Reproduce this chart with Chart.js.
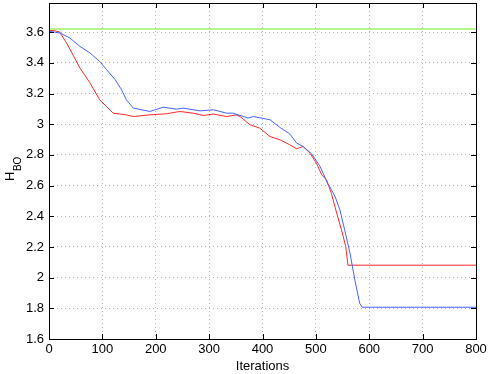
<!DOCTYPE html>
<html>
<head>
<meta charset="utf-8">
<script src="https://cdn.jsdelivr.net/npm/chart.js@4.4.1/dist/chart.umd.min.js"></script>
<style>
  html, body { margin: 0; padding: 0; background: #fff; }
  #wrap { width: 491px; height: 374px; position: relative; }
</style>
</head>
<body>
<div id="wrap"><canvas id="chart1"></canvas></div>
<script>
// values
var xTicks = [0, 100, 200, 300, 400, 500, 600, 700, 800];
var yTicks = [1.6, 1.8, 2, 2.2, 2.4, 2.6, 2.8, 3, 3.2, 3.4, 3.6];

var redIter = [0, 10, 20, 33, 58, 77, 95, 108, 120, 145, 158, 189, 220, 245, 270, 289, 308, 333, 351, 358, 377, 395, 414, 433, 451, 464, 476, 489, 501, 511, 520, 529, 539, 548, 556, 560, 800];
var redH = [3.61, 3.61, 3.6, 3.529, 3.366, 3.268, 3.159, 3.115, 3.072, 3.061, 3.05, 3.061, 3.068, 3.083, 3.072, 3.057, 3.066, 3.05, 3.061, 3.05, 2.996, 2.974, 2.92, 2.898, 2.866, 2.84, 2.855, 2.811, 2.746, 2.67, 2.637, 2.55, 2.42, 2.311, 2.202, 2.081, 2.081];

var blueIter = [0, 2, 21, 39, 58, 77, 95, 108, 124, 136, 145, 158, 189, 214, 239, 251, 283, 308, 333, 345, 373, 383, 414, 433, 451, 464, 476, 492, 508, 523, 526, 536, 545, 554, 564, 573, 582, 587, 800];
var blueH = [3.61, 3.605, 3.594, 3.562, 3.507, 3.464, 3.409, 3.355, 3.29, 3.224, 3.159, 3.105, 3.083, 3.111, 3.098, 3.105, 3.087, 3.094, 3.072, 3.072, 3.04, 3.05, 3.029, 2.978, 2.937, 2.877, 2.855, 2.807, 2.724, 2.605, 2.593, 2.528, 2.442, 2.311, 2.159, 1.985, 1.833, 1.807, 1.807];

var refIter = [0, 800];
var refH = [3.62, 3.62];

function pts(xs, ys) {
    return xs.map(function(x, i) { return { x: x, y: ys[i] }; });
}

// box, inward ticks and the H_BO label, matlab style
var matlabBox = {
    id: 'matlabBox',
    afterDatasetsDraw: function(chart) {
        var ctx = chart.ctx;
        var a = chart.chartArea;
        var sx = chart.scales.x, sy = chart.scales.y;
        ctx.save();
        ctx.strokeStyle = '#000';
        ctx.lineWidth = 1;
        ctx.beginPath();
        xTicks.forEach(function(v) {
            var px = Math.round(sx.getPixelForValue(v)) + 0.5;
            ctx.moveTo(px, a.bottom); ctx.lineTo(px, a.bottom - 5);
            ctx.moveTo(px, a.top); ctx.lineTo(px, a.top + 5);
        });
        yTicks.forEach(function(v) {
            var py = Math.round(sy.getPixelForValue(v)) + 0.5;
            ctx.moveTo(a.left, py); ctx.lineTo(a.left + 5, py);
            ctx.moveTo(a.right, py); ctx.lineTo(a.right - 5, py);
        });
        ctx.stroke();
        ctx.strokeRect(Math.round(a.left) + 0.5, Math.round(a.top) + 0.5, Math.round(a.right - a.left), Math.round(a.bottom - a.top));
        ctx.restore();

        ctx.save();
        ctx.fillStyle = '#000';
        ctx.translate(14, 181);
        ctx.rotate(-Math.PI / 2);
        ctx.textBaseline = 'alphabetic';
        ctx.font = '13px "Liberation Sans", Arial, sans-serif';
        ctx.fillText('H', 0, 0);
        var w = ctx.measureText('H').width;
        ctx.font = '10px "Liberation Sans", Arial, sans-serif';
        ctx.fillText('BO', w + 0.5, 7);
        ctx.restore();
    }
};

var ctx = document.getElementById('chart1');
var myChart = new Chart(ctx, {
    type: 'scatter',
    data: {
        datasets: [{
            label: 'reference',
            data: pts(refIter, refH),
            showLine: true,
            borderColor: '#b6f58c',
            borderWidth: 2,
            pointRadius: 0
        }, {
            label: 'blue',
            data: pts(blueIter, blueH),
            showLine: true,
            borderColor: 'rgb(70,100,255)',
            borderWidth: 1,
            pointRadius: 0
        }, {
            label: 'red',
            data: pts(redIter, redH),
            showLine: true,
            borderColor: 'rgb(255,40,40)',
            borderWidth: 1,
            pointRadius: 0
        }]
    },
    options: {
        responsive: true,
        maintainAspectRatio: false,
        animation: false,
        events: [],
        layout: {
            padding: { left: 0, right: 15, top: 3, bottom: 0 }
        },
        plugins: {
            legend: { display: false },
            tooltip: { enabled: false }
        },
        scales: {
            x: {
                type: 'linear',
                min: 0,
                max: 800,
                afterBuildTicks: function(axis) {
                    axis.ticks = xTicks.map(function(v) { return { value: v }; });
                },
                afterFit: function(axis) { axis.height = 35; },
                grid: {
                    color: '#b4b4b4',
                    lineWidth: 1,
                    drawTicks: false
                },
                border: { display: false, dash: [1, 3] },
                ticks: {
                    color: '#000',
                    padding: 3,
                    maxRotation: 0,
                    font: { family: '"Liberation Sans", Arial, sans-serif', size: 13 }
                },
                title: {
                    display: true,
                    text: 'Iterations',
                    color: '#000',
                    padding: 0,
                    font: { family: '"Liberation Sans", Arial, sans-serif', size: 13 }
                }
            },
            y: {
                type: 'linear',
                min: 1.6,
                max: 3.79,
                afterBuildTicks: function(axis) {
                    axis.ticks = yTicks.map(function(v) { return { value: v }; });
                },
                afterFit: function(axis) {
                    axis.width = 49;
                    axis.paddingTop = 0;
                    axis.paddingBottom = 0;
                },
                grid: {
                    color: '#b4b4b4',
                    lineWidth: 1,
                    drawTicks: false
                },
                border: { display: false, dash: [1, 3] },
                ticks: {
                    color: '#000',
                    padding: 5,
                    callback: function(v) { return String(Math.round(v * 10) / 10); },
                    font: { family: '"Liberation Sans", Arial, sans-serif', size: 13 }
                }
            }
        }
    },
    plugins: [matlabBox]
});
</script>
</body>
</html>
